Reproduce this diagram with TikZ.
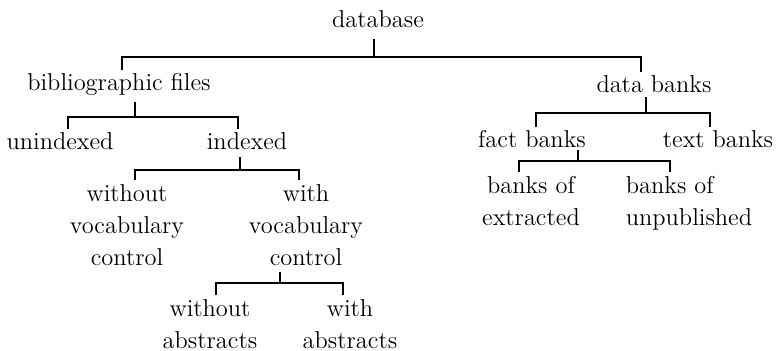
\documentclass[tikz,border=0pt]{standalone}
\usepackage{tikz}
\usetikzlibrary{positioning,calc}
\tikzset{
    %Define style for the category labels
    label/.style={
           align=center,
           inner sep=0pt,
           outer sep=2pt,
           font=\fontsize{12.2}{16}\selectfont},
    term/.style={
           label,
           text height=8pt},
    % Define branch line style
    branch/.style={
           -,
           line width=0.9pt}
}

\begin{document}
\begin{tikzpicture}[node distance=0pt]
	\useasboundingbox (-189pt,13.5pt) rectangle (199.5pt,-161.5pt);

	% Root
	\node[term, anchor=base](database) at (0,0){database};
	\node[term, below=31.5pt of database.base, anchor=base, xshift=-129.5pt](bibfiles){bibliographic files};
	\node[term, below=32.5pt of database.base, anchor=base, xshift=138pt](databanks){data banks};

	% bibliographic files
	\node[term, below=29.5pt of bibfiles.base, anchor=base, xshift=-29.5pt](unindexed){unindexed};
	\node[term, below=29.5pt of bibfiles.base, anchor=base, xshift=64pt](indexed){indexed};

	\node[label, below=58pt of indexed.base, anchor=base, xshift=-60pt](withoutvoc){without\\vocabulary\\control};
	\node[label, below=58pt of indexed.base, anchor=base, xshift=29.5pt](withvoc){with\\vocabulary\\control};

	\node[label, below=41.5pt of withvoc.base, anchor=base, xshift=-48pt](withoutabs){without\\abstracts};
	\node[label, below=41.5pt of withvoc.base, anchor=base, xshift=22pt](withabs){with\\abstracts};

	% data banks
	\node[term, below=27.5pt of databanks.base, anchor=base, xshift=-61pt](factbanks){fact banks};
	\node[term, below=27.5pt of databanks.base, anchor=base, xshift=32pt](textbanks){text banks};

	\node[label, below=39pt of factbanks.base, anchor=base, xshift=-0.5pt](extracted){banks of\\extracted};
	\node[label, below=39pt of factbanks.base, anchor=base, xshift=78.5pt, align=left](unpublished){banks of\\unpublished};

	% Branches
	\draw[branch] ([shift={(-2pt,-6pt)}]database.base) -- ++(0,-9pt) coordinate (databar);
	\draw[branch] ([xshift=1.5pt]bibfiles.north) |- (databar) -| ([xshift=-6.5pt]databanks.north);

	\draw[branch] ([shift={(8pt,-6pt)}]bibfiles.base) -- ++(0,-7.5pt) coordinate (bibbar);
	\draw[branch] ([xshift=4pt]unindexed.north) |- (bibbar) -| ([xshift=-4.5pt]indexed.north);

	\draw[branch] ([shift={(-3.5pt,-4pt)}]indexed.base) -- ++(0,-6.5pt) coordinate (indexbar);
	\draw[branch] ([xshift=4pt]withoutvoc.north) |- (indexbar) -| ([xshift=-3.5pt]withvoc.north);

	\draw[branch] ([shift={(-13pt,-3.5pt)}]withvoc.base) -- ++(0,-5.5pt) coordinate (vocbar);
	\draw[branch] ([xshift=3pt]withoutabs.north) |- (vocbar) -| ([xshift=-3.5pt]withabs.north);

	\draw[branch] ([shift={(-4pt,-2.5pt)}]databanks.base) -- ++(0,-8pt) coordinate (bankbar);
	\draw[branch] ([xshift=2pt]factbanks.north) |- (bankbar) -| ([xshift=-4pt]textbanks.north);

	\draw[branch] ([shift={(23pt,-1.5pt)}]factbanks.base) -- ++(0,-5.5pt) coordinate (factbar);
	\draw[branch] ([xshift=-6pt]extracted.north) |- (factbar) -| ([xshift=-9.5pt]unpublished.north);

\end{tikzpicture}
\end{document}
